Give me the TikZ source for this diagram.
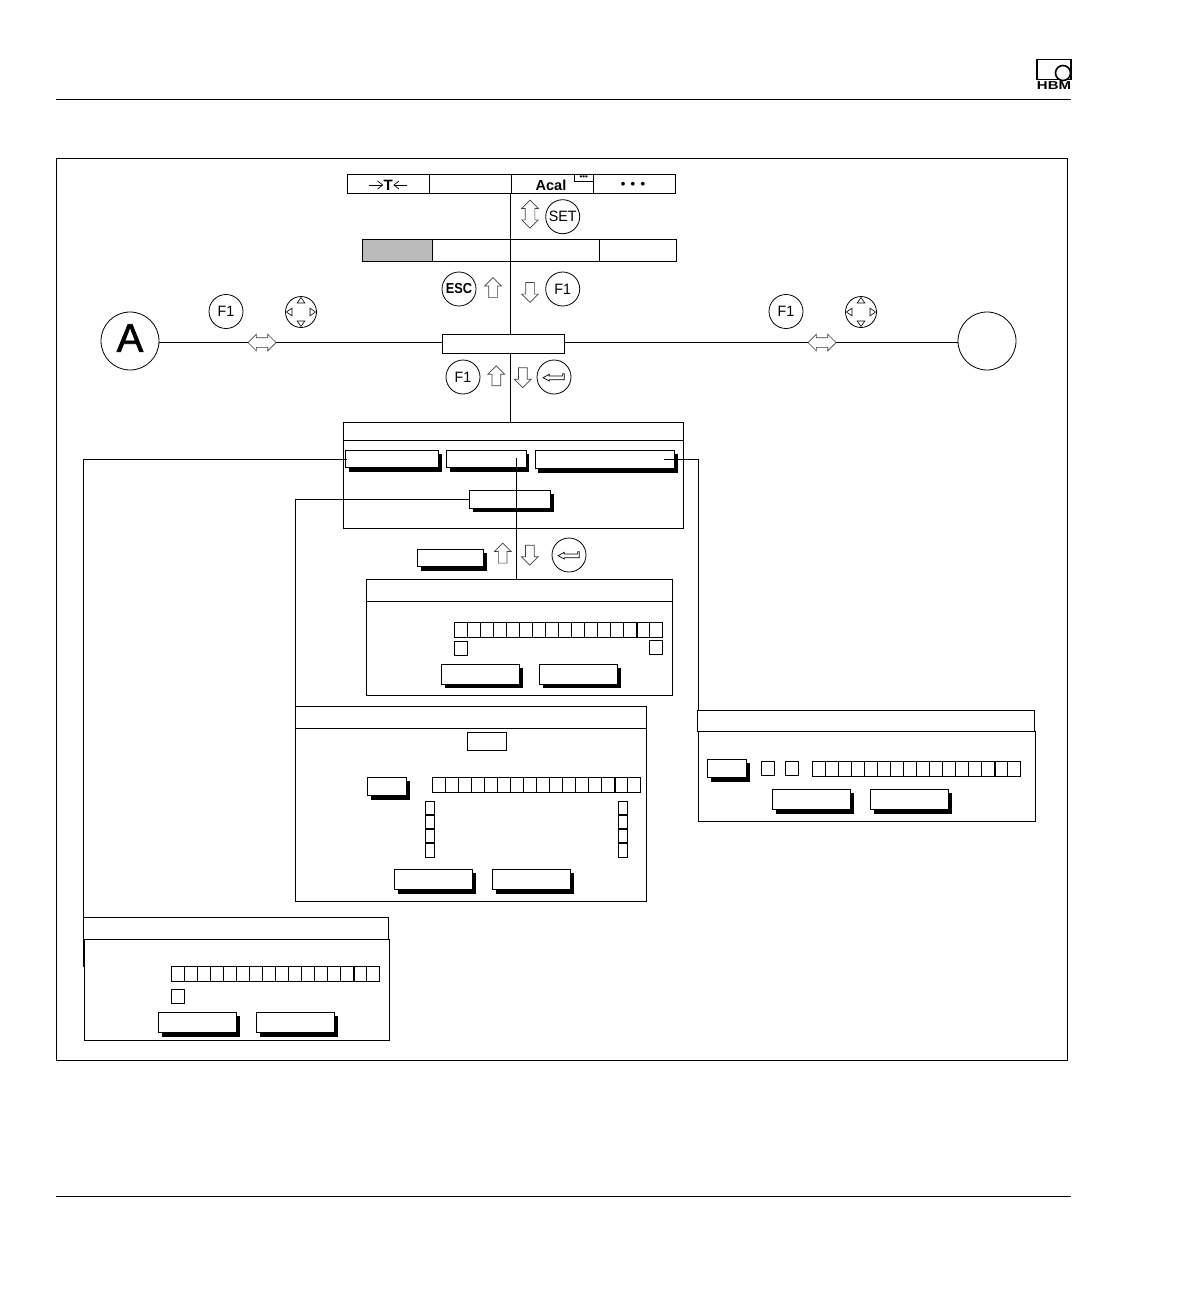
\documentclass[tikz,border=0pt]{standalone}
\usepackage{fontspec}
\setmainfont{Liberation Sans}
\usepackage{xcolor}
\usepackage{tikz}
\usetikzlibrary{calc}
\usetikzlibrary{arrows.meta, positioning, shapes.arrows, shapes.geometric, shadows}

% row of sixteen entry cells: name, x, y
\newcommand{\cellrow}[3]{
  \foreach \i in {0,...,15} {
    \node[cellbox, anchor=north west] (#1-\i) at ({#2+\i*13.03},#3) {};
  }
  \draw[heavy] (#1-14.north west) -- (#1-14.south west);
}
% stack of four small cells: name, x, y
\newcommand{\cellstack}[3]{
  \foreach \i in {0,...,3} {
    \node[cellbox, anchor=north west, minimum width=9.4pt, minimum height=14pt] (#1-\i) at (#2,{#3+\i*14}) {};
  }
  \draw[heavy] (#1-1.north west) -- (#1-1.north east);
  \draw[heavy] (#1-2.north west) -- (#1-2.north east);
  \draw[heavy] (#1-3.north west) -- (#1-3.north east);
}
% return arrow inside a round key
\newcommand{\enterglyph}[1]{
  \draw[glyph, shift={(#1.center)}] (-11,.7) -- (-4.7,-2.7) -- (-4.7,-1) -- (8.6,-1) -- (8.6,-3.3)
    -- (10.3,-3.3) -- (10.3,2.7) -- (-4.7,2.7) -- (-4.7,4) -- cycle;
}
% four small tips inside the cursor key
\newcommand{\navglyph}[1]{
  \foreach \a in {0,90,180,270} {
    \node[navtip, rotate=\a] (#1-\a) at ($(#1.center)+(\a:11pt)$) {};
  }
}
% narrow key lettering
\newcommand{\keytext}[1]{\scalebox{.95}[1]{#1}}

\begin{document}
\begin{tikzpicture}[
  x=1pt, y=-1pt,
  >=Latex,
  every path/.style={line width=1pt},
  plain/.style={draw, inner sep=0pt, outer sep=0pt},
  menucell/.style={plain, minimum width=82pt, minimum height=19.5pt},
  softcell/.style={plain, minimum height=22pt},
  cellbox/.style={plain, minimum width=13.03pt, minimum height=15pt},
  tick/.style={plain, minimum width=13.4pt, minimum height=14pt},
  dlgtitle/.style={plain, anchor=north west},
  dlgbody/.style={plain, anchor=north west},
  btn/.style={plain, fill=white, minimum width=78.4pt, minimum height=20.4pt, anchor=north west,
    drop shadow={shadow xshift=3.3pt, shadow yshift=-4pt, opacity=1, fill=black}},
  key/.style={plain, circle, fill=white, line width=.8pt, minimum size=34pt, font=\fontsize{15}{15}\selectfont},
  navkey/.style={plain, circle, line width=.8pt, minimum size=31pt},
  navtip/.style={plain, isosceles triangle, isosceles triangle apex angle=70, line width=.6pt, minimum height=5.5pt, minimum width=6pt},
  hollow/.style={plain, single arrow, inner ysep=4pt, inner xsep=0pt, single arrow head extend=4pt, single arrow tip angle=90,
    minimum height=20pt, draw=black!75, line width=.7pt},
  hollowup/.style={hollow, rotate=90},
  hollowdown/.style={hollow, rotate=-90},
  hollowboth/.style={plain, double arrow, fill=white, inner ysep=4.5pt, inner xsep=0pt, double arrow head extend=3.5pt, double arrow tip angle=90,
    minimum height=28pt, draw=black!75, line width=.7pt},
  wire/.style={line width=1pt},
  heavy/.style={line width=1.8pt},
  glyph/.style={line width=.7pt},
  rule/.style={line width=1pt}
]
\useasboundingbox (0,0) rectangle (1191,1304);

% page rules and logo
\coordinate (headL) at (56,99.5);
\coordinate (headR) at (1071,99.5);
\coordinate (footL) at (56,1196.5);
\coordinate (footR) at (1071,1196.5);
\draw[rule] (headL) -- (headR);
\draw[rule] (footL) -- (footR);
\node[plain, line width=1.6pt, anchor=north west, minimum width=34pt, minimum height=20pt] (logoBox) at (1037,59.5) {};
\node[plain, circle, fill=white, line width=1.6pt, minimum size=15pt] (logoRing) at (1063,73) {};
\node[inner sep=0pt, font=\fontsize{11.5}{11.5}\bfseries\selectfont] (logoText) at (1054,86) {\scalebox{1.3}[1]{HBM}};

% outer frame
\node[plain, anchor=north west, minimum width=1011pt, minimum height=902pt] (frame) at (56.5,158.5) {};

% top menu
\node[menucell, anchor=north west] (menuA) at (347.5,174) {};
\node[menucell, right=0pt of menuA] (menuB) {};
\node[menucell, right=0pt of menuB] (menuC) {};
\node[menucell, right=0pt of menuC] (menuD) {};
\node[inner sep=0pt, font=\fontsize{15}{15}\bfseries\selectfont] (tareT) at (388.3,185) {T};
\draw[->, line width=.7pt, >={Straight Barb[length=5pt,width=8pt]}] ([xshift=-14pt]tareT.west) -- (tareT.west);
\draw[->, line width=.7pt, >={Straight Barb[length=5pt,width=8pt]}] ([xshift=14pt]tareT.east) -- (tareT.east);
\node[inner sep=0pt, font=\fontsize{14.5}{14.5}\bfseries\selectfont] (acal) at (551,185) {Acal};
\node[plain, anchor=north west, minimum width=19pt, minimum height=6.8pt, line width=.8pt] (acalDots) at (574.3,174.3) {};
\node[inner sep=0pt, yshift=.5pt, font=\fontsize{8}{8}\selectfont] (acalDotText) at (acalDots.center) {•••};
\node[inner sep=0pt, font=\fontsize{13}{13}\bfseries\selectfont] (moreDots) at (633,185.7) {•\hspace{5.4pt}•\hspace{5.4pt}•};

% softkey bar
\node[softcell, fill=black!27, anchor=north west, minimum width=70pt] (softA) at (362.5,239.5) {};
\node[softcell, right=0pt of softA, minimum width=78pt] (softB) {};
\node[softcell, right=0pt of softB, minimum width=89pt] (softC) {};
\node[softcell, right=0pt of softC, minimum width=77pt] (softD) {};
\draw[heavy] (softC.north west) -- (softC.south west);

% keys around the spine
\node[hollowboth, rotate=90] (setArrow) at (530,214.2) {};
\node[key] (keySet) at (562.7,216.7) {\keytext{SET}};
\node[key, font=\fontsize{14.5}{14.5}\bfseries\selectfont] (keyEsc) at (459,289) {\scalebox{.88}[1]{ESC}};
\node[hollowup] (escArrow) at (493,289.8) {};
\node[hollowdown] (fArrow) at (530,290.3) {};
\node[key] (keyFa) at (562.7,289) {\keytext{F1}};

% central line
\node[plain, anchor=north west, minimum width=122pt, minimum height=19pt] (centre) at (442.5,334) {};
\coordinate (spineTop) at (510.5,193.5);
\coordinate (railL) at (159,342.5);
\coordinate (railR) at (958,342.5);
\draw[wire] (spineTop) -- (spineTop |- softB.north);
\draw[wire] (spineTop |- softB.south) -- (spineTop |- centre.north);
\draw[wire] (railL) -- (railL -| centre.west);
\draw[wire] (railL -| centre.east) -- (railR);
\node[key, minimum size=58pt, font=\fontsize{40}{40}\selectfont\addfontfeature{FakeBold=1.5}] (keyA) at (130,341) {\raisebox{6pt}{A}};
\node[key, minimum size=58pt] (keyB) at (987,341) {};
\node[hollowboth] (railArrowL) at (262,342.5) {};
\node[hollowboth] (railArrowR) at (822,342.5) {};
\node[key] (keyFb) at (226,311.5) {\keytext{F1}};
\node[key] (keyFc) at (786,311.5) {\keytext{F1}};
\node[navkey] (navL) at (301,312) {};
\node[navkey] (navR) at (861,312) {};
\navglyph{navL}
\navglyph{navR}

% keys under the central box
\node[key] (keyFd) at (463,377) {\keytext{F1}};
\node[hollowup] (upArrow) at (496.3,378) {};
\node[hollowdown] (downArrow) at (522.8,375.5) {};
\node[key] (keyEnterA) at (554,377) {};
\enterglyph{keyEnterA}

% main dialog
\node[dlgtitle, minimum width=340pt, minimum height=18.5pt] (mainTitle) at (343.5,422) {};
\node[dlgbody, minimum width=340pt, minimum height=88pt] (mainBody) at (343.5,440.5) {};
\node[btn, minimum width=93.4pt, minimum height=17.5pt] (btnLeft) at (345.3,450) {};
\node[btn, minimum width=79.7pt, minimum height=17.5pt] (btnMid) at (446.3,450) {};
\node[btn, minimum width=139.3pt, minimum height=18.5pt] (btnRight) at (535,450) {};
\node[btn, minimum width=81pt, minimum height=18.3pt] (btnLow) at (469.3,490) {};
\draw[wire] (spineTop |- centre.south) -- (spineTop |- mainTitle.north);

% keys above first sub dialog
\node[btn, minimum width=66.4pt, minimum height=17.4pt] (btnStep) at (417.3,549.3) {};
\node[hollowup] (stepUp) at (502.7,555.3) {};
\node[hollowdown] (stepDown) at (529.8,553) {};
\node[key] (keyEnterB) at (569,555) {};
\enterglyph{keyEnterB}

% dialog below middle button
\node[dlgtitle, minimum width=306pt, minimum height=22.5pt] (autoTitle) at (366.5,579) {};
\node[dlgbody, minimum width=306pt, minimum height=93.5pt] (autoBody) at (366.5,601.5) {};
\cellrow{autoRow}{454.3}{622}
\node[tick, anchor=north west] (autoTickL) at (454.3,641.3) {};
\node[tick, anchor=north west] (autoTickR) at (649.2,640.5) {};
\node[btn] (autoOk) at (441.3,664) {};
\node[btn, right=19.6pt of autoOk] (autoCancel) {};

% dialog below low button
\node[dlgtitle, minimum width=351pt, minimum height=22pt] (lowTitle) at (295.5,706.3) {};
\node[dlgbody, minimum width=351pt, minimum height=172.7pt] (lowBody) at (295.5,728.3) {};
\node[plain, anchor=north west, minimum width=39.4pt, minimum height=18.2pt] (lowField) at (467.3,732.3) {};
\node[btn, minimum width=39.4pt, minimum height=18.2pt] (lowPick) at (367.3,777.3) {};
\cellrow{lowRow}{432.3}{777.3}
\cellstack{lowStackL}{425.3}{801.3}
\cellstack{lowStackR}{618.3}{801.3}
\node[btn] (lowOk) at (394.3,869.3) {};
\node[btn, right=19.6pt of lowOk] (lowCancel) {};

% dialog at the right
\node[dlgtitle, minimum width=337pt, minimum height=21.4pt] (rightTitle) at (697.7,710.3) {};
\node[dlgbody, minimum width=337.4pt, minimum height=89.3pt] (rightBody) at (698.3,731.7) {};
\node[btn, minimum width=39.4pt, minimum height=18.2pt] (rightPick) at (707.3,759.3) {};
\node[tick, anchor=north west] (rightTickA) at (761.3,761.3) {};
\node[tick, anchor=north west] (rightTickB) at (785.3,761.3) {};
\cellrow{rightRow}{812.3}{761.3}
\node[btn] (rightOk) at (772.3,789.3) {};
\node[btn, right=19.6pt of rightOk] (rightCancel) {};

% dialog at the left
\node[dlgtitle, minimum width=305pt, minimum height=21.7pt] (leftTitle) at (83.5,917.3) {};
\node[dlgbody, minimum width=305pt, minimum height=101.5pt] (leftBody) at (84.5,939) {};
\cellrow{leftRow}{171.3}{966.3}
\node[tick, anchor=north west] (leftTick) at (171.3,989.3) {};
\node[btn] (leftOk) at (158.3,1012.3) {};
\node[btn, right=19.6pt of leftOk] (leftCancel) {};

% connectors to the sub dialogs
\coordinate (midStart) at (516.3,458);
\coordinate (leftStart) at (346.7,459.5);
\coordinate (rightStart) at (664.3,459);
\coordinate (leftDrop) at (83.7,967);
\coordinate (rightDrop) at (698.7,710.3);
\draw[wire] (midStart) -- (midStart |- autoTitle.north);
\draw[wire] (leftStart) -| (leftDrop);
\draw[wire] (rightStart) -| (rightDrop);
\draw[wire] (btnLow.west) -| (lowTitle.north west);

\end{tikzpicture}
\end{document}
